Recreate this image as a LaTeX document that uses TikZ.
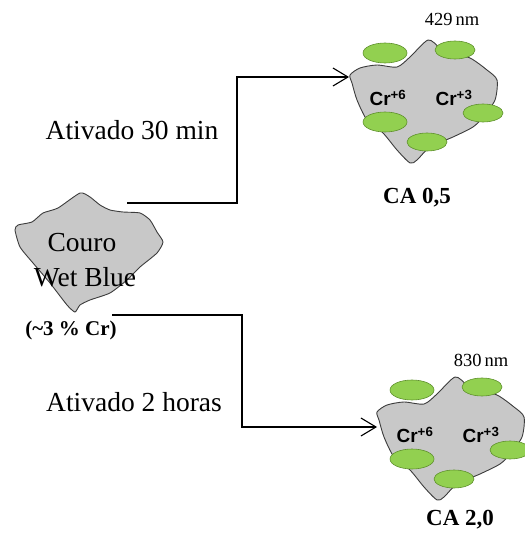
\documentclass[tikz,border=0pt]{standalone}
\usepackage{fontspec}
\setmainfont{Liberation Serif}
\newfontfamily\crfont{Liberation Sans}
\usetikzlibrary{arrows.meta}

\definecolor{leather}{RGB}{200,200,200}
\definecolor{outline}{RGB}{60,60,60}
\definecolor{grain}{RGB}{146,208,80}
\definecolor{grainedge}{RGB}{95,145,45}

\tikzset{
  blob/.style={draw=outline, fill=leather, line width=0.9pt},
  grainfill/.style={draw=grainedge, fill=grain, line width=0.6pt},
  lbl/.style={inner sep=0pt, font=\fontsize{27.5}{30}\selectfont},
  boldlbl/.style={inner sep=0pt, font=\fontsize{23}{26}\selectfont\bfseries},
  nmlbl/.style={inner sep=0pt, font=\fontsize{18.5}{20}\selectfont},
  crlbl/.style={inner sep=0pt, font=\crfont\bfseries\fontsize{19}{21}\selectfont},
  flow/.style={draw=black, line width=1.1pt, -{Straight Barb[length=15pt,width=18pt,line width=1.1pt]}},
  pics/carbon/.style={code={
    \path[blob] plot[smooth cycle, tension=0.45] coordinates {
      (0,0) (10,-7) (27,-10) (47,-8) (60,-18) (78,-35) (90,-27) (100,-22)
      (120,-17) (137,-5) (147,5) (145,25) (133,42) (123,52) (103,62) (80,72)
      (67,85) (60,88) (47,75) (33,58) (17,45) (7,25) (2,8)};
    \path[grainfill] (35,-22) ellipse [x radius=22pt, y radius=10pt];
    \path[grainfill] (105,-25) ellipse [x radius=20pt, y radius=9pt];
    \path[grainfill] (133,38) ellipse [x radius=20pt, y radius=9pt];
    \path[grainfill] (35,47) ellipse [x radius=22pt, y radius=10pt];
    \path[grainfill] (77,67) ellipse [x radius=20pt, y radius=9pt];
    \node[crlbl] (-cr6) at (38,23) {Cr\textsuperscript{+6}};
    \node[crlbl] (-cr3) at (104,23) {Cr\textsuperscript{+3}};
  }}
}

\begin{document}
\begin{tikzpicture}[x=1pt,y=-1pt]
  \useasboundingbox (0,0) rectangle (524,537);

  % raw leather piece
  \path[blob] plot[smooth cycle, tension=0.35] coordinates {
    (15,230) (18,225) (32,222) (43,213) (58,208) (80,193) (90,197) (100,205)
    (110,210) (123,212) (140,213) (150,220) (157,232) (163,242) (157,253)
    (140,267) (127,280) (110,293) (90,300) (80,305) (75,312) (67,305)
    (50,283) (33,263) (20,247)};
  \node[lbl] (couro) at (82,243) {Couro};
  \node[lbl] (wetblue) at (85,277) {Wet Blue};
  \node[inner sep=0pt, font=\fontsize{21}{24}\selectfont\bfseries] (teor) at (71,330) {(\char`\~3 \% Cr)};

  % activated carbons
  \pic (ca05) at (350,75) {carbon};
  \pic (ca20) at (377,412) {carbon};
  \node[nmlbl] (nm429) at (452,19) {429\,nm};
  \node[nmlbl] (nm830) at (481,360) {830\,nm};
  \node[boldlbl] (lbl05) at (417,198) {CA 0,5};
  \node[boldlbl] (lbl20) at (460,520) {CA 2,0};

  % activation routes
  \coordinate (out30) at (127,203);
  \coordinate (in30) at (349,77);
  \coordinate (out2h) at (112,315);
  \coordinate (in2h) at (377,427);
  \draw[flow] (out30) -| (237,140) |- (in30);
  \draw[flow] (out2h) -| (242,380) |- (in2h);
  \node[lbl] (t30) at (132,130) {Ativado 30 min};
  \node[lbl] (t2h) at (134,402) {Ativado 2 horas};
\end{tikzpicture}
\end{document}
